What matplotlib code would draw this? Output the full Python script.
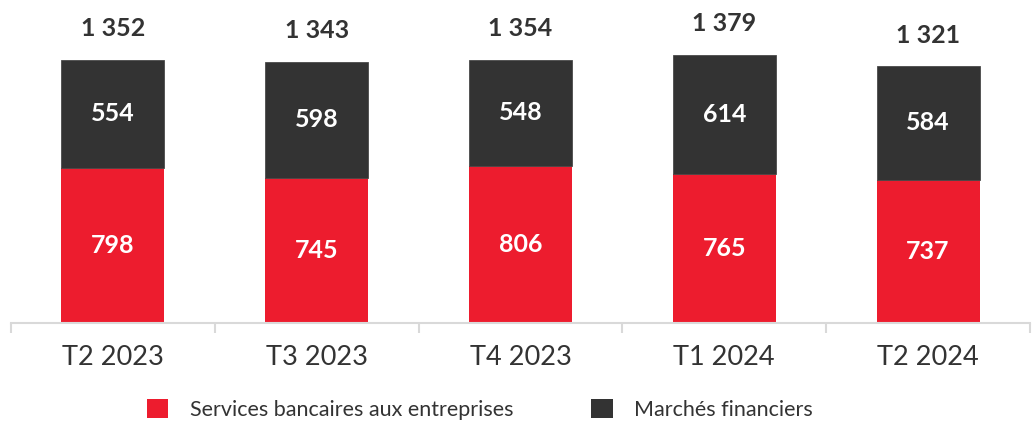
import matplotlib.pyplot as plt
import numpy as np
from matplotlib.patches import Patch

plt.rcParams['font.family'] = ['Lato', 'DejaVu Sans']

quarters = ['T2 2023', 'T3 2023', 'T4 2023', 'T1 2024', 'T2 2024']
services = [798, 745, 806, 765, 737]
marches = [554, 598, 548, 614, 584]
totals = [1352, 1343, 1354, 1379, 1321]

red = '#ED1C2E'
dark = '#333333'
txt = '#333333'


def fmt(v):
    # french thousands separator
    return '{:,}'.format(v).replace(',', ' ')


fig = plt.figure(figsize=(10.32, 4.21), dpi=100)
ax = fig.add_axes([11 / 1032, 98 / 421, 1019 / 1032, 323 / 421])

x = np.arange(len(quarters))
width = 0.505
A = ax.bar(x, services, width, color=red, label='Services bancaires aux entreprises')
B = ax.bar(x, marches, width, bottom=services, color=dark, edgecolor='#4a4a4a',
           linewidth=0.6, label='Marchés financiers')

for i in range(len(x)):
    ax.text(x[i], services[i] / 2, fmt(services[i]), ha='center', va='center',
            color='white', fontsize=18, fontweight='bold')
    ax.text(x[i], services[i] + marches[i] / 2, fmt(marches[i]), ha='center', va='center',
            color='white', fontsize=18, fontweight='bold')
    ax.annotate(fmt(totals[i]), xy=(x[i], totals[i]), xytext=(0, 14),
                textcoords='offset points', ha='center', va='bottom',
                color=txt, fontsize=18, fontweight='bold')

ax.set_xlim(-0.5, len(x) - 0.5)
ax.set_ylim(0, 1660)
for s in ['top', 'right', 'left']:
    ax.spines[s].set_visible(False)
ax.spines['bottom'].set_color('#D9D9D9')
ax.spines['bottom'].set_linewidth(1.5)
ax.set_yticks([])

ax.set_xticks(x)
ax.set_xticklabels(quarters, fontsize=19.5, color=txt)
ax.tick_params(axis='x', which='major', length=0, pad=16)
ax.set_xticks(np.arange(len(x) + 1) - 0.5, minor=True)
ax.tick_params(axis='x', which='minor', length=7, width=1.5, color='#D9D9D9')

handles = [Patch(facecolor=red), Patch(facecolor=dark)]
fig.legend(handles, ['Services bancaires aux entreprises', 'Marchés financiers'],
           loc='center', bbox_to_anchor=(0.465, 0.028), ncol=2, frameon=False,
           fontsize=15.5, handlelength=1.0, handleheight=1.0, handletextpad=1.0,
           columnspacing=3.6, labelcolor=txt)

fig.savefig('out.png', dpi=100)
